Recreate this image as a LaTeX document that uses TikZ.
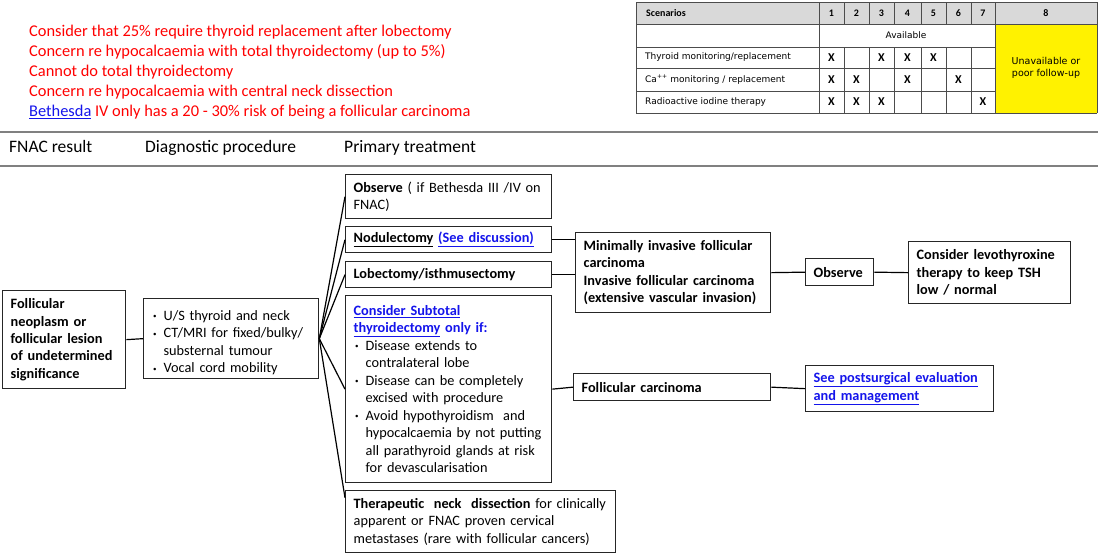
\documentclass[tikz,border=0pt]{standalone}
\usepackage{fontspec}
\setmainfont{Carlito}
\newfontfamily\tabfont{DejaVu Sans}
\definecolor{linkblue}{RGB}{20,20,235}
\definecolor{hdrgray}{RGB}{217,217,217}
\newcommand{\bitem}{\par\hangindent=12pt\hangafter=1\noindent\hbox to 12pt{\hskip1.5pt\raisebox{1.5pt}{\fontsize{7}{7}\selectfont •}\hfil}}
\newcommand{\lnk}[1]{\textcolor{linkblue}{\underline{#1}}}
\begin{document}
\begin{tikzpicture}[x=1pt,y=-1pt,
  box/.style={draw=black!85, line width=1.3pt, anchor=north west, inner xsep=8pt, inner ysep=2pt, align=left, font=\fontsize{14.3}{17.5}\selectfont},
  bbox/.style={box, font=\bfseries\fontsize{14.3}{17.5}\selectfont},
  conn/.style={draw=black, line width=1.2pt},
  redtxt/.style={text=red, anchor=base west, inner sep=0pt, font=\fontsize{16.4}{20}\selectfont},
  hdr/.style={anchor=base west, inner sep=0pt, font=\fontsize{17.5}{20}\selectfont},
  tab/.style={inner sep=0pt, font=\tabfont\fontsize{9}{11}\selectfont},
  tabnum/.style={inner sep=0pt, font=\bfseries\fontsize{10}{11}\selectfont},
  xmark/.style={inner sep=0pt, font=\bfseries\fontsize{12}{12}\selectfont},
  tline/.style={draw=black!70, line width=0.7pt}]
\useasboundingbox (0,0) rectangle (1098,555);

% red notes
\node[redtxt] (r1) at (29,36) {Consider that 25\% require thyroid replacement after lobectomy};
\node[redtxt] (r2) at (29,56.5) {Concern re hypocalcaemia with total thyroidectomy (up to 5\%)};
\node[redtxt] (r3) at (29,76.5) {Cannot do total thyroidectomy};
\node[redtxt] (r4) at (29,96.5) {Concern re hypocalcaemia with central neck dissection};
\node[redtxt] (r5) at (29,116.5) {\lnk{Bethesda} IV only has a 20 - 30\% risk of being a follicular carcinoma};

% table
\fill[hdrgray] (636,2) rectangle (1097,24);
\fill[yellow] (995,24) rectangle (1097,113);
\draw[tline] (636,2) -- (1097,2);
\draw[tline] (636,24) -- (1097,24);
\draw[tline] (636,47) -- (995,47);
\draw[tline] (636,68) -- (995,68);
\draw[tline] (636,91) -- (995,91);
\draw[tline] (636,113) -- (1097,113);
\draw[tline] (636,2) -- (636,113);
\draw[tline] (819,2) -- (819,113);
\draw[tline] (995,2) -- (995,113);
\draw[tline] (1097,2) -- (1097,113);
\foreach \cx in {844,869,894,921,946,971} {
  \draw[tline] (\cx,2) -- (\cx,24);
  \draw[tline] (\cx,47) -- (\cx,113);
}
\node[tabnum, anchor=west] (scen) at (646,13) {Scenarios};
\node[tabnum] (n1) at (831.5,13) {1};
\node[tabnum] (n2) at (856.5,13) {2};
\node[tabnum] (n3) at (881.5,13) {3};
\node[tabnum] (n4) at (907.5,13) {4};
\node[tabnum] (n5) at (933.5,13) {5};
\node[tabnum] (n6) at (958.5,13) {6};
\node[tabnum] (n7) at (983,13) {7};
\node[tabnum] (n8) at (1046,13) {8};
\node[tab] (avail) at (906,35.5) {Available};
\node[tab, anchor=west] (t1) at (645,57.5) {Thyroid monitoring/replacement};
\node[tab, anchor=west] (t2) at (645,79.5) {Ca\textsuperscript{\fontsize{6}{6}\selectfont ++} monitoring / replacement};
\node[tab, anchor=west] (t3) at (645,102) {Radioactive iodine therapy};
\node[tab, align=center, font=\tabfont\fontsize{9.5}{11.5}\selectfont] (unav) at (1046,68) {Unavailable or\\poor follow-up};
\foreach \cx in {831.5,881.5,907.5,933.5} \node[xmark] at (\cx,58) {X};
\foreach \cx in {831.5,856.5,907.5,958.5} \node[xmark] at (\cx,80) {X};
\foreach \cx in {831.5,856.5,881.5,983} \node[xmark] at (\cx,102) {X};

% rules and column headers
\draw[black!50, line width=1.5pt] (0,132) -- (1098,132);
\draw[black!50, line width=1.5pt] (0,166) -- (1098,166);
\node[hdr] (h1) at (9,152) {FNAC result};
\node[hdr] (h2) at (145,152) {Diagnostic procedure};
\node[hdr] (h3) at (344,152) {Primary treatment};

% boxes
\node[bbox, font=\bfseries\fontsize{14.3}{17.3}\selectfont, minimum width=123pt, minimum height=98pt, text width=107pt] (fol) at (2,290)
  {Follicular\\neoplasm or\\follicular lesion\\of undetermined\\significance};
\node[box, minimum width=175pt, minimum height=80pt, text width=159pt] (diag) at (143,298)
  {\bitem U/S thyroid and neck\bitem CT/MRI for fixed/bulky/\newline substernal tumour\bitem Vocal cord mobility\par};
\node[box, minimum width=206pt, minimum height=44pt, text width=190pt] (obs) at (345,174)
  {\textbf{Observe} ( if Bethesda III /IV on\\FNAC)};
\node[box, minimum width=206pt, minimum height=26pt, text width=190pt] (nod) at (345,226)
  {\textbf{\underline{Nodulectomy}} \textbf{\lnk{(See discussion)}}};
\node[box, minimum width=206pt, minimum height=26pt, text width=190pt] (lob) at (345,261)
  {\textbf{Lobectomy/isthmusectomy}};
\node[box, minimum width=206pt, minimum height=187pt, text width=190pt] (sub) at (345,295)
  {\textbf{\lnk{Consider Subtotal}}\\\textbf{\lnk{thyroidectomy} \textcolor{linkblue}{only if:}}%
   \bitem Disease extends to\newline contralateral lobe\bitem Disease can be completely\newline excised with procedure\bitem Avoid hypothyroidism\ \ and\newline hypocalcaemia by not putting\newline all parathyroid glands at risk\newline for devascularisation\par};
\node[box, minimum width=270pt, minimum height=62pt, text width=254pt] (neck) at (345,490)
  {\textbf{Therapeutic\ \ neck\ \ dissection} for clinically\\apparent or FNAC proven cervical\\metastases (rare with follicular cancers)};
\node[bbox, minimum width=195pt, minimum height=80pt, text width=179pt] (mi) at (575,232)
  {Minimally invasive follicular\\carcinoma\\Invasive follicular carcinoma\\(extensive vascular invasion)};
\node[bbox, minimum width=197pt, minimum height=27pt, text width=181pt] (fc) at (573,373)
  {Follicular carcinoma};
\node[bbox, minimum width=68pt, minimum height=27pt, text width=52pt] (obsr) at (805,258)
  {Observe};
\node[bbox, minimum width=162pt, minimum height=62pt, text width=146pt] (levo) at (908,241)
  {Consider levothyroxine\\therapy to keep TSH\\low / normal};
\node[bbox, minimum width=188pt, minimum height=46pt, text width=172pt] (sp) at (805,365)
  {\lnk{See postsurgical evaluation}\\\lnk{and management}};

% connectors
\draw[conn] (fol.east) -- (diag.west);
\draw[conn] (diag.east) -- (obs.west);
\draw[conn] (diag.east) -- (nod.west);
\draw[conn] (diag.east) -- (lob.west);
\draw[conn] (diag.east) -- (sub.west);
\draw[conn] (diag.east) -- (neck.170);
\draw[conn] (nod.east) -- (nod.east -| mi.west);
\draw[conn] (lob.east) -- (lob.east -| mi.west);
\draw[conn] (mi.east) -- (obsr.west);
\draw[conn] (obsr.east) -- (levo.west);
\draw[conn] (sub.east) -- (fc.west);
\draw[conn] (fc.east) -- (sp.west);
\end{tikzpicture}
\end{document}
